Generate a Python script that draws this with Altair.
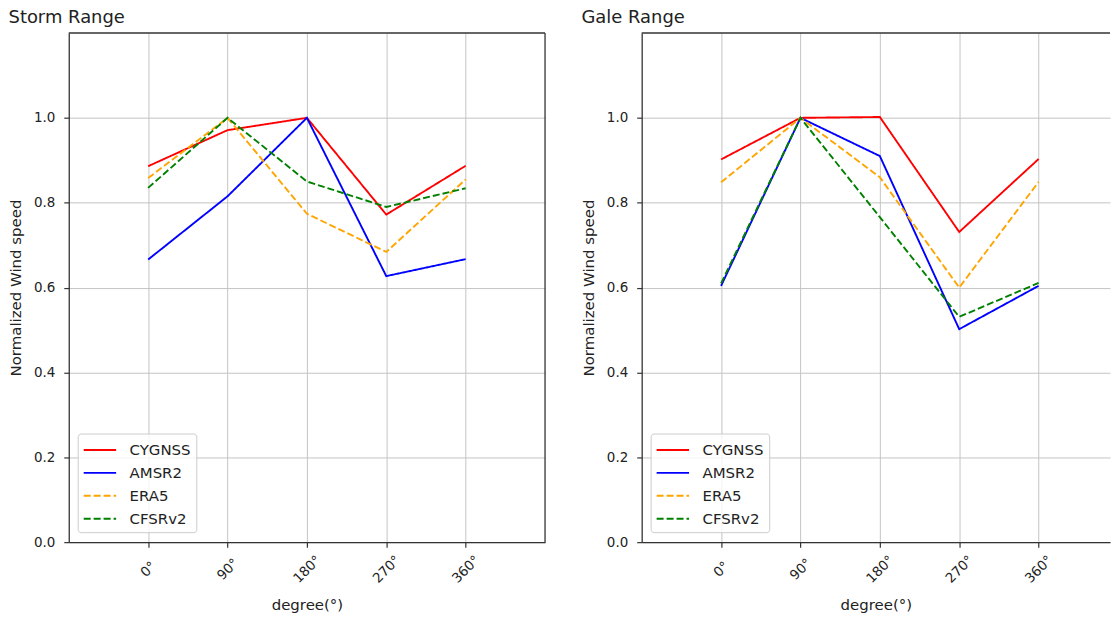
import altair as alt
import pandas as pd

# ---- data ----
angles = [0, 90, 180, 270, 360]
series = ["CYGNSS", "AMSR2", "ERA5", "CFSRv2"]
colors = ["red", "blue", "orange", "green"]
dashes = [[1, 0], [1, 0], [7, 3], [7, 3]]

storm_cygnss = [0.886, 0.971, 1.000, 0.772, 0.887]
storm_amsr2 = [0.666, 0.815, 1.000, 0.627, 0.667]
storm_era5 = [0.858, 1.000, 0.774, 0.684, 0.855]
storm_cfsrv2 = [0.835, 1.000, 0.850, 0.790, 0.834]

gale_cygnss = [0.902, 1.000, 1.002, 0.731, 0.903]
gale_amsr2 = [0.604, 1.000, 0.910, 0.502, 0.604]
gale_era5 = [0.848, 1.000, 0.860, 0.600, 0.849]
gale_cfsrv2 = [0.610, 1.000, 0.766, 0.531, 0.611]

y_ticks = [0.0, 0.2, 0.4, 0.6, 0.8, 1.0]


def long_table(values_by_series):
    rows = []
    for s, vals in zip(series, values_by_series):
        for a, v in zip(angles, vals):
            rows.append({"series": s, "angle": a, "value": v})
    return pd.DataFrame(rows)


storm_df = long_table([storm_cygnss, storm_amsr2, storm_era5, storm_cfsrv2])
gale_df = long_table([gale_cygnss, gale_amsr2, gale_era5, gale_cfsrv2])

FONT = "DejaVu Sans"
PLOT_H = 511
LEFT_W = 478
RIGHT_W = 470
FRAME = "#333333"
LEGEND_FONT_SIZE = 15


def legend():
    return alt.Legend(
        title=None,
        orient="none",
        legendX=9,
        legendY=402,
        symbolType="M-1,0H2.1",
        symbolSize=441,
        symbolStrokeWidth=1.9,
        labelFontSize=LEGEND_FONT_SIZE,
        labelFont=FONT,
        labelColor="#222222",
        labelOffset=24,
        labelLimit=0,
        rowPadding=3,
        padding=5,
        strokeColor="#cccccc",
        fillColor="rgba(255,255,255,0.8)",
        cornerRadius=3,
    )


def panel(df, title, width, xmax, right_border):
    base = alt.Chart(df).mark_line(strokeWidth=1.9).encode(
        x=alt.X(
            "angle:Q",
            scale=alt.Scale(domain=[-90, xmax], nice=False, zero=False),
            axis=alt.Axis(
                values=angles,
                labelExpr="datum.value + '°'",
                labelAngle=-45,
                labelAlign="center",
                labelBaseline="middle",
                labelPadding=22,
                title="degree(°)",
                titlePadding=12,
            ),
        ),
        y=alt.Y(
            "value:Q",
            scale=alt.Scale(domain=[0, 1.2], nice=False),
            axis=alt.Axis(
                values=y_ticks,
                format=".1f",
                title="Normalized Wind speed",
                labelPadding=9,
                titlePadding=10,
            ),
        ),
        color=alt.Color(
            "series:N",
            scale=alt.Scale(domain=series, range=colors),
            legend=legend(),
        ),
        strokeDash=alt.StrokeDash(
            "series:N",
            scale=alt.Scale(domain=series, range=dashes),
            legend=legend(),
        ),
    )
    one = pd.DataFrame({"k": [0]})
    top = alt.Chart(one).mark_rule(color=FRAME, strokeWidth=1.3).encode(
        x=alt.value(0), x2=alt.value(width), y=alt.value(0)
    )
    layers = [base, top]
    if right_border:
        right = alt.Chart(one).mark_rule(color=FRAME, strokeWidth=1.3).encode(
            x=alt.value(width), y=alt.value(0), y2=alt.value(PLOT_H)
        )
        layers.append(right)
    return alt.layer(*layers).properties(
        width=width,
        height=PLOT_H,
        title=alt.TitleParams(
            title,
            anchor="start",
            fontSize=18,
            font=FONT,
            fontWeight="normal",
            color="#222222",
            offset=5,
        ),
    )


left = panel(storm_df, "Storm Range", LEFT_W, 450, True)
right = panel(gale_df, "Gale Range", RIGHT_W, -90 + RIGHT_W * 540 / LEFT_W, False)

chart = (
    alt.hconcat(left, right, spacing=35)
    .resolve_scale(color="independent", strokeDash="independent")
    .resolve_legend(color="independent", strokeDash="independent")
    .properties(
        padding={"left": 8, "top": 8, "right": 0, "bottom": 0},
        background="white",
    )
    .configure_view(stroke=None)
    .configure_legend(labelFont=FONT, labelFontSize=LEGEND_FONT_SIZE, labelColor="#222222")
    .configure_axis(
        labelFont=FONT,
        titleFont=FONT,
        labelFontSize=13.5,
        titleFontSize=15,
        titleFontWeight="normal",
        labelColor="#222222",
        titleColor="#222222",
        domainColor=FRAME,
        domainWidth=1.3,
        tickColor=FRAME,
        tickSize=5,
        tickWidth=1.2,
        grid=True,
        gridColor="#c4c4c4",
        gridWidth=1,
    )
)

chart.save("out.html", embed_options={"renderer": "svg", "actions": False})
